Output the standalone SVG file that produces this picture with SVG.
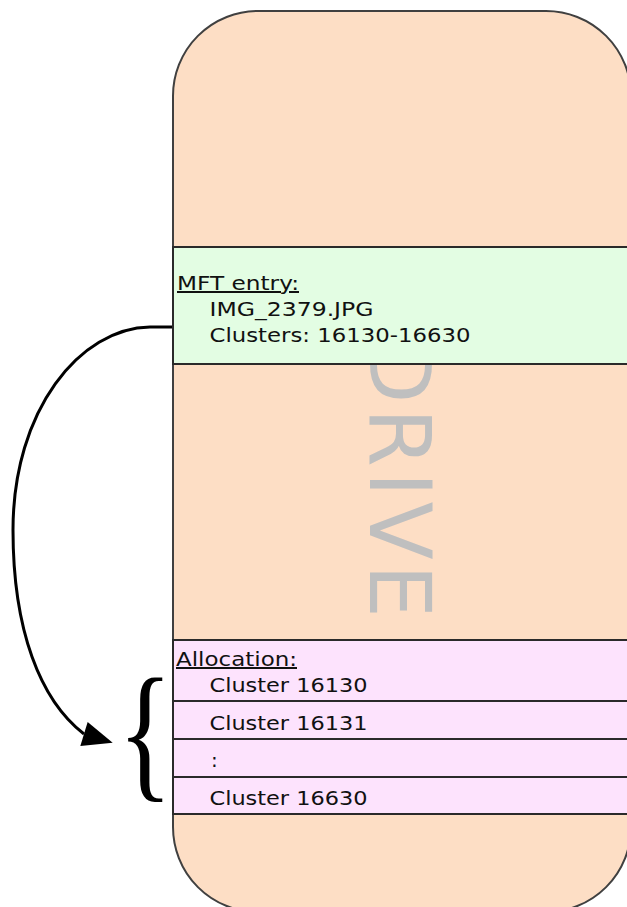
<svg xmlns="http://www.w3.org/2000/svg" width="627" height="907" viewBox="0 0 627 907">
<style>
.band{stroke:#2a2a2a;stroke-width:2}
.mft{fill:#e3fde3}
.alloc{fill:#fde3fd}
.lbl{font-family:"DejaVu Sans","Verdana",sans-serif;font-size:20px;fill:#111}
.u{text-decoration:underline}
.conn{fill:none;stroke:#000;stroke-width:3}
</style>
<defs>
<marker id="ah" markerUnits="userSpaceOnUse" viewBox="0 -13 31 26" markerWidth="31" markerHeight="26" refX="0" refY="0" orient="17" overflow="visible">
<path d="M0,-12.5 L30,0 L0,12.5 z" fill="#000"/>
</marker>
</defs>
<rect width="627" height="907" fill="#fff"/>
<g id="drive">
<rect x="173" y="11" width="458" height="901" rx="85" ry="85" fill="#fddec5" stroke="#404040" stroke-width="2"/>
<text transform="translate(370,338) rotate(90)" font-family="DejaVu Sans, Verdana, sans-serif" font-size="85" fill="#bfbfbf" textLength="280" lengthAdjust="spacing">DRIVE</text>
</g>
<g id="mft-entry">
<rect class="band mft" x="173" y="247" width="470" height="117"/>
<text class="lbl u" x="177" y="290" textLength="122" lengthAdjust="spacingAndGlyphs">MFT entry:</text>
<text class="lbl" x="209.5" y="316" textLength="164" lengthAdjust="spacingAndGlyphs">IMG_2379.JPG</text>
<text class="lbl" x="209.5" y="342" textLength="261" lengthAdjust="spacingAndGlyphs">Clusters: 16130-16630</text>
</g>
<g id="allocation">
<rect class="band alloc" x="173" y="640" width="470" height="61"/>
<text class="lbl u" x="176" y="666" textLength="121" lengthAdjust="spacingAndGlyphs">Allocation:</text>
<text class="lbl" x="209.5" y="692" textLength="158" lengthAdjust="spacingAndGlyphs">Cluster 16130</text>
</g>
<g id="cluster-16131">
<rect class="band alloc" x="173" y="701" width="470" height="38"/>
<text class="lbl" x="209.5" y="729.5" textLength="158" lengthAdjust="spacingAndGlyphs">Cluster 16131</text>
</g>
<g id="cluster-ellipsis">
<rect class="band alloc" x="173" y="739" width="470" height="38"/>
<text class="lbl" x="211" y="767">:</text>
</g>
<g id="cluster-16630">
<rect class="band alloc" x="173" y="777" width="470" height="37"/>
<text class="lbl" x="209.5" y="804.5" textLength="158" lengthAdjust="spacingAndGlyphs">Cluster 16630</text>
</g>
<g id="brace">
<text transform="translate(117.8,782) scale(1.04,1.364)" font-family="Liberation Serif, serif" font-size="110" fill="#000">{</text>
</g>
<g id="connectors">
<path class="conn" d="M172,327 L150,327 C80,328 13,410 13,530 C13,630 40,700 84,734" marker-end="url(#ah)"/>
</g>
</svg>
